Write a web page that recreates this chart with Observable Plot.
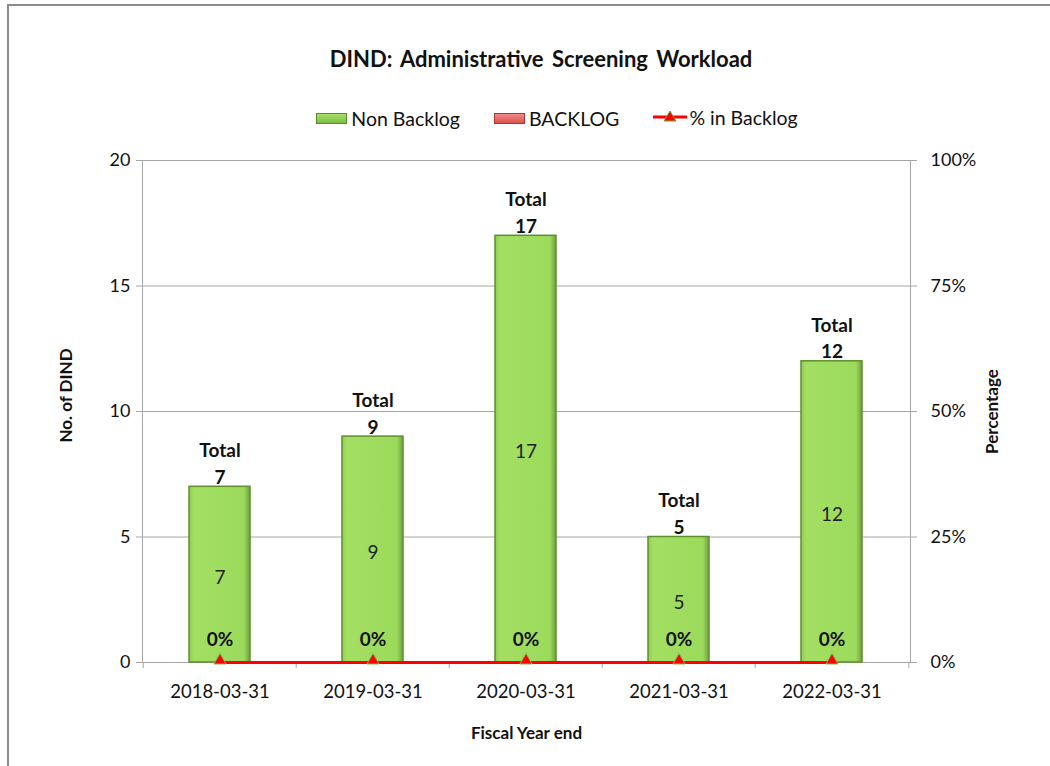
<!DOCTYPE html>
<html>
<head>
<meta charset="utf-8">
<script src="https://cdn.jsdelivr.net/npm/d3@7"></script>
<script src="https://cdn.jsdelivr.net/npm/@observablehq/plot@0.6"></script>
<style>
  html, body { margin: 0; padding: 0; background: #fff; }
  body { width: 1050px; height: 766px; overflow: hidden; font-family: Lato, "Open Sans", sans-serif; }
  #wrap { position: relative; width: 1050px; height: 766px; }
  #border { position: absolute; left: 7px; top: 4px; right: -10px; bottom: -10px; border-top: 2px solid #8c8c8c; border-left: 2px solid #8c8c8c; pointer-events: none; }
  #title { position: absolute; left: 0; width: 1082px; top: 45px; text-align: center; font-weight: bold; font-size: 22px; color: #111; word-spacing: 3px; }
  #legend { position: absolute; left: 0; width: 1114px; top: 105px; text-align: center; font-size: 19.5px; color: #111; white-space: nowrap; }
  .item { display: inline-flex; align-items: center; margin: 0 17px; }
  .sw { display: inline-block; width: 31px; height: 11px; margin-right: 4px; box-sizing: border-box; }
  .green { background: linear-gradient(#a6e068, #7fbf45); border: 1.5px solid #5b8a2c; }
  .red { background: linear-gradient(#f28a8a, #d9534f); border: 1.5px solid #a33a37; }
  #chart { position: absolute; left: 0; top: 0; }
</style>
</head>
<body>
<div id="wrap">
  <div id="chart"></div>
  <div id="border"></div>
  <div id="title">DIND: Administrative  Screening Workload</div>
  <div id="legend"></div>
</div>
<script>
// ---- data ----
const years = ["2018-03-31", "2019-03-31", "2020-03-31", "2021-03-31", "2022-03-31"];
const nonBacklog = [7, 9, 17, 5, 12];
const backlog = [0, 0, 0, 0, 0];
const pctBacklog = [0, 0, 0, 0, 0];
const yTicks = [0, 5, 10, 15, 20];
const pctTicks = [0, 25, 50, 75, 100];
const seriesNames = ["Non Backlog", "BACKLOG", "% in Backlog"];

// ---- build tables ----
const rows = years.flatMap((yr, i) => [
  {year: yr, series: seriesNames[0], value: nonBacklog[i]},
  {year: yr, series: seriesNames[1], value: backlog[i]}
]);
const totals = years.map((yr, i) => ({year: yr, total: nonBacklog[i] + backlog[i], non: nonBacklog[i], pct: pctBacklog[i]}));

// legend
const legend = document.getElementById("legend");
legend.innerHTML =
  `<span class="item"><span class="sw green"></span>${seriesNames[0]}</span>` +
  `<span class="item"><span class="sw red"></span>${seriesNames[1]}</span>` +
  `<span class="item"><svg width="34" height="14" style="margin-right:2px"><line x1="0" y1="7" x2="34" y2="7" stroke="#ff0000" stroke-width="3"/><path d="M17,1 L23,11 L11,11 Z" fill="#ff0000" stroke="#6aa83a" stroke-width="1"/></svg>${seriesNames[2]}</span>`;

const W = 1050, H = 766, mL = 142, mR = 140, mT = 160, mB = 104;
const step = (W - mL - mR) / years.length;
const pctToY = p => p / 100 * 20;

const plot = Plot.plot({
  width: W, height: H,
  marginLeft: mL, marginRight: mR, marginTop: mT, marginBottom: mB,
  style: {fontFamily: "Lato, 'Open Sans', sans-serif", fontSize: "18px", color: "#111", background: "transparent"},
  x: {domain: years, paddingInner: 0.6, paddingOuter: 0.3, label: null},
  y: {domain: [0, 20], label: null},
  color: {domain: seriesNames.slice(0, 2), range: ["url(#gGreen)", "url(#gRed)"]},
  marks: [
    Plot.gridY(yTicks.slice(1, -1), {stroke: "#a6a6a6", strokeOpacity: 1}),
    Plot.frame({stroke: "#a6a6a6"}),
    Plot.axisY(yTicks, {anchor: "left", tickSize: 6, tickPadding: 6, stroke: "#a6a6a6", label: null, fontSize: 18}),
    Plot.axisY(yTicks, {anchor: "right", tickSize: 6, tickPadding: 14, stroke: "#a6a6a6", label: null, fontSize: 18,
      tickFormat: (d, i) => pctTicks[i] + "%"}),
    Plot.axisX({tickSize: 0, tickPadding: 22, label: null, fontSize: 18.5}),
    Plot.ruleX(years, {x: d => d, dx: -step / 2, y1: 0, y2: -0.24, stroke: "#a6a6a6"}),
    Plot.ruleX(years.slice(-1), {x: d => d, dx: step / 2, y1: 0, y2: -0.24, stroke: "#a6a6a6"}),
    Plot.barY(rows, {x: "year", y: "value", fill: "series", stroke: d => d.series === seriesNames[0] ? "#5e8f2e" : "#a33a37", strokeWidth: 1.5}),
    Plot.text(totals, {x: "year", y: d => d.non / 2, text: d => String(d.non), fontSize: 19, fill: "#222", dy: 3}),
    Plot.text(totals, {x: "year", y: d => pctToY(d.pct), text: d => d.pct + "%", fontSize: 19, fontWeight: "bold", dy: -23, fill: "#111"}),
    Plot.text(totals, {x: "year", y: "total", text: d => "Total\n" + d.total, fontSize: 19, fontWeight: "bold", lineAnchor: "bottom", lineHeight: 1.4, dy: -3, fill: "#111"}),
    Plot.line(totals, {x: "year", y: d => pctToY(d.pct), stroke: "#ff0000", strokeWidth: 3}),
    Plot.dot(totals, {x: "year", y: d => pctToY(d.pct), symbol: "triangle", r: 4.5, fill: "#ff0000", stroke: "#7ab648", strokeWidth: 1, dy: -2}),
    Plot.text(["No. of DIND"], {frameAnchor: "left", dx: -76, dy: -16, rotate: -90, textAnchor: "middle", text: d => d, fontWeight: "bold", fontSize: 17}),
    Plot.text(["Percentage"], {frameAnchor: "right", dx: 82, rotate: -90, textAnchor: "middle", text: d => d, fontWeight: "bold", fontSize: 17}),
    Plot.text(["Fiscal Year end"], {frameAnchor: "bottom", dy: 76, text: d => d, fontWeight: "bold", fontSize: 17})
  ]
});

// gradients for bevelled bars
const svg = d3.select(plot);
const defs = svg.insert("defs", ":first-child");
const gG = defs.append("linearGradient").attr("id", "gGreen").attr("x1", 0).attr("x2", 1).attr("y1", 0).attr("y2", 0);
gG.append("stop").attr("offset", "0%").attr("stop-color", "#8fcc52");
gG.append("stop").attr("offset", "8%").attr("stop-color", "#a2df62");
gG.append("stop").attr("offset", "90%").attr("stop-color", "#9cda5c");
gG.append("stop").attr("offset", "100%").attr("stop-color", "#6f9f3f");
const gR = defs.append("linearGradient").attr("id", "gRed").attr("x1", 0).attr("x2", 1);
gR.append("stop").attr("offset", "0%").attr("stop-color", "#e57373");
gR.append("stop").attr("offset", "100%").attr("stop-color", "#c0504d");

document.getElementById("chart").appendChild(plot);
</script>
</body>
</html>
